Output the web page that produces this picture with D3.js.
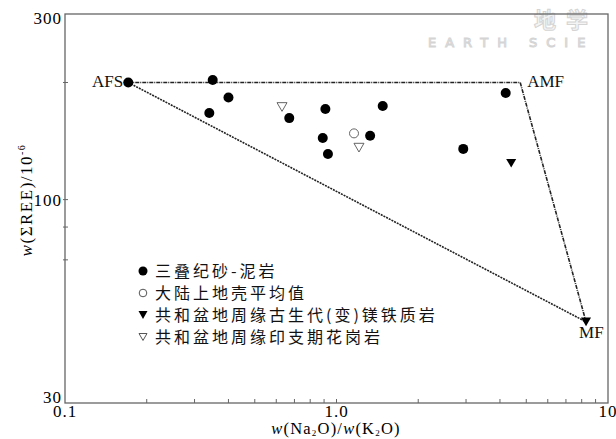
<!DOCTYPE html>
<html><head><meta charset="utf-8">
<script src="https://cdn.jsdelivr.net/npm/d3@7"></script>
<style>
html,body{margin:0;padding:0;background:#fff;}
svg{display:block;}
</style></head>
<body>
<svg id="c" width="616" height="439"></svg>
<script>
// ---- data ----
const triassicRatio = [0.171, 0.35, 0.40, 0.34, 0.67, 0.91, 0.89, 0.93, 1.48, 1.33, 2.93, 4.2];
const triassicREE   = [200,   203,  183,  167,  162,  171,  144,  131,  174,  146,  135,  188];
const crustRatio = [1.16];
const crustREE   = [148];
const maficRatio = [4.4, 8.3];
const maficREE   = [124, 48.5];
const graniteRatio = [0.63, 1.21];
const graniteREE   = [173, 136];
const fieldNames = ["AFS", "AMF", "MF"];
const fieldRatio = [0.171, 4.75, 8.3];
const fieldREE   = [200, 200, 48.5];
const legendLabels = ["三叠纪砂-泥岩", "大陆上地壳平均值", "共和盆地周缘古生代(变)镁铁质岩", "共和盆地周缘印支期花岗岩"];
const xTickLabels = ["0.1", "1.0", "10"];
const xTickValues = [0.1, 1, 10];
const xMinorTicks = [0.2,0.3,0.4,0.5,0.6,0.7,0.8,0.9,2,3,4,5,6,7,8,9];
const yTickLabels = ["30", "100", "300"];
const yTickValues = [30, 100, 300];
const yMinorTicks = [200, 85, 70];

// ---- layout ----
const svg = d3.select("#c");
const L = 65, R = 608, T = 14, B = 403;
const x = d3.scaleLog().domain([0.1, 10]).range([L, R]);
const y = d3.scaleLog().domain([30, 300]).range([B, T]);
const serif = "'Liberation Serif','DejaVu Serif',serif";
const cjk = "'Noto Sans CJK SC','Noto Sans',sans-serif";

// watermark
const wm = svg.append("g").attr("fill", "#f4f4f4").attr("stroke", "#d4d4d4").attr("stroke-width", 1);
wm.append("text").attr("x", 534).attr("y", 28).attr("font-family", cjk).attr("font-size", 22)
  .attr("font-weight", "bold").attr("letter-spacing", 10).text("地学");
wm.append("text").attr("x", 428).attr("y", 47).attr("font-family", "'DejaVu Sans',sans-serif")
  .attr("font-size", 13).attr("letter-spacing", 9).text("EARTH SCIE");

// frame
svg.append("rect").attr("x", L).attr("y", T).attr("width", R - L).attr("height", B - T)
  .attr("fill", "none").attr("stroke", "#666").attr("stroke-width", 1.3);

// ticks
const tg = svg.append("g").attr("stroke", "#666").attr("stroke-width", 1);
tg.selectAll("line.xm").data(xMinorTicks.concat([1])).join("line")
  .attr("x1", d => x(d)).attr("x2", d => x(d)).attr("y1", B).attr("y2", B - 4);
tg.selectAll("line.ym").data(yMinorTicks.concat([100])).join("line")
  .attr("class", "ym")
  .attr("x1", L - 2).attr("x2", L + 3).attr("y1", d => y(d)).attr("y2", d => y(d));

// tick labels
svg.append("g").selectAll("text").data(xTickValues).join("text")
  .attr("x", d => x(d)).attr("y", 417).attr("text-anchor", "middle")
  .attr("font-family", serif).attr("font-size", 17).attr("letter-spacing", 1)
  .text((d, i) => xTickLabels[i]);
svg.append("g").selectAll("text").data(yTickValues).join("text")
  .attr("x", 62).attr("y", d => Math.max(T + 10, Math.min(B, y(d) + 6))).attr("text-anchor", "end")
  .attr("font-family", serif).attr("font-size", 17).attr("letter-spacing", 1)
  .text((d, i) => yTickLabels[i]);

// axis titles
const xt = svg.append("text").attr("x", 336).attr("y", 434).attr("text-anchor", "middle")
  .attr("font-family", serif).attr("font-size", 16.5).attr("letter-spacing", 1.2);
xt.append("tspan").attr("font-style", "italic").text("w");
xt.append("tspan").text("(Na");
xt.append("tspan").attr("font-size", 9).attr("dy", 2).text("2");
xt.append("tspan").attr("dy", -2).text("O)/");
xt.append("tspan").attr("font-style", "italic").text("w");
xt.append("tspan").text("(K");
xt.append("tspan").attr("font-size", 9).attr("dy", 2).text("2");
xt.append("tspan").attr("dy", -2).text("O)");

const yt = svg.append("text").attr("transform", "translate(32,200) rotate(-90)")
  .attr("text-anchor", "middle").attr("font-family", serif).attr("font-size", 17).attr("letter-spacing", 1.5);
yt.append("tspan").attr("font-style", "italic").text("w");
yt.append("tspan").text("(ΣREE)/10");
yt.append("tspan").attr("font-size", 10).attr("dy", -7).text("-6");

// field boundary lines
const pts = fieldRatio.map((d, i) => [x(d), y(fieldREE[i])]);
const lg = svg.append("g").attr("fill", "none").attr("stroke", "#222").attr("stroke-width", 1.6);
lg.append("path").attr("d", d3.line()([pts[0], pts[1], pts[2]])).attr("stroke-dasharray", "4,1,1,1");
lg.append("path").attr("d", d3.line()([pts[0], pts[2]])).attr("stroke-dasharray", "2,1");

// field labels
const fl = svg.append("g").attr("font-family", serif).attr("font-size", 17).attr("fill", "#111");
fl.append("text").attr("x", pts[0][0] - 5).attr("y", pts[0][1] + 5).attr("text-anchor", "end").text(fieldNames[0]);
fl.append("text").attr("x", pts[1][0] + 7).attr("y", pts[1][1] + 5).text(fieldNames[1]);
fl.append("text").attr("x", pts[2][0] - 7).attr("y", pts[2][1] + 16).text(fieldNames[2]);

// symbols
const tri = (cx, cy, s, up) => {
  const h = s * 0.87;
  return up ? `M${cx - s / 2},${cy + h / 2}L${cx + s / 2},${cy + h / 2}L${cx},${cy - h / 2}Z`
            : `M${cx - s / 2},${cy - h / 2}L${cx + s / 2},${cy - h / 2}L${cx},${cy + h / 2}Z`;
};
const mg = svg.append("g");
mg.selectAll("circle.t").data(triassicRatio).join("circle").attr("class", "t")
  .attr("cx", d => x(d)).attr("cy", (d, i) => y(triassicREE[i])).attr("r", 5).attr("fill", "#000");
mg.selectAll("circle.c").data(crustRatio).join("circle").attr("class", "c")
  .attr("cx", d => x(d)).attr("cy", (d, i) => y(crustREE[i])).attr("r", 4.5)
  .attr("fill", "none").attr("stroke", "#555").attr("stroke-width", 0.9);
mg.selectAll("path.m").data(maficRatio).join("path").attr("class", "m")
  .attr("d", (d, i) => tri(x(d), y(maficREE[i]), 10, false)).attr("fill", "#000");
mg.selectAll("path.g").data(graniteRatio).join("path").attr("class", "g")
  .attr("d", (d, i) => tri(x(d), y(graniteREE[i]), 10, false))
  .attr("fill", "none").attr("stroke", "#555").attr("stroke-width", 0.9);

// legend
const legY = [271, 293, 315, 337];
const lgd = svg.append("g");
lgd.append("circle").attr("cx", 143).attr("cy", legY[0]).attr("r", 4.5).attr("fill", "#000");
lgd.append("circle").attr("cx", 143).attr("cy", legY[1]).attr("r", 3.8).attr("fill", "none").attr("stroke", "#555");
lgd.append("path").attr("d", tri(143, legY[2], 9, false)).attr("fill", "#000");
lgd.append("path").attr("d", tri(143, legY[3], 8, false)).attr("fill", "none").attr("stroke", "#555");
lgd.selectAll("text").data(legendLabels).join("text")
  .attr("x", 155).attr("y", (d, i) => legY[i] + 6)
  .attr("font-family", cjk).attr("font-size", 16).attr("letter-spacing", 3).attr("fill", "#111")
  .text(d => d);
</script>
</body></html>
